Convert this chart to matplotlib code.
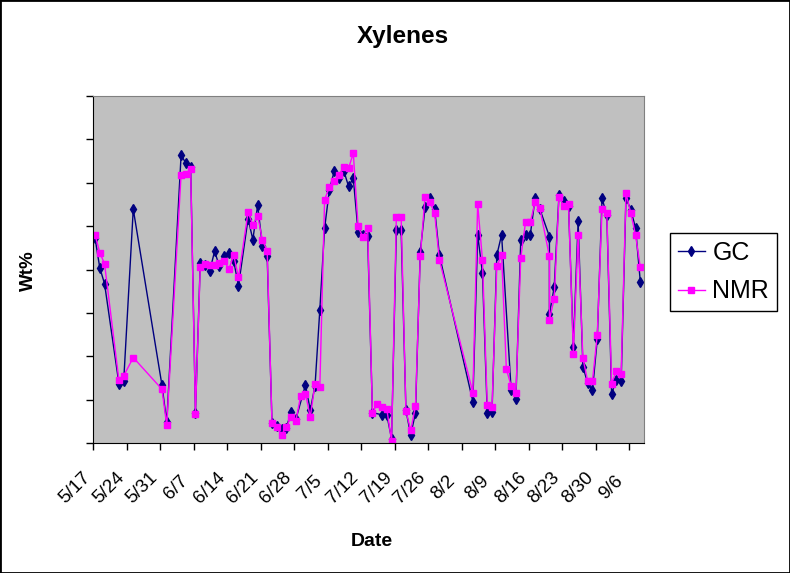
import matplotlib.pyplot as plt
from matplotlib.patches import Rectangle

plt.rcParams['font.family'] = ['Liberation Sans', 'DejaVu Sans']

# sample day (days after 5/17) and Wt% reading for each method
gc_day = [0, 1, 2, 5, 6, 8, 14, 15, 18, 19, 20, 21, 22, 23, 24, 25, 26, 27, 28, 29, 30,
          32, 33, 34, 35, 36, 37, 38, 39, 40, 41, 42, 44, 45, 46, 47, 48, 49, 50, 51, 52,
          53, 54, 55, 56, 57, 58, 60, 61, 62, 63, 64, 65, 66, 67, 68, 69, 70, 71, 72,
          79, 80, 81, 82, 83, 84, 85, 87, 88, 89, 90, 91, 92, 93, 95, 95, 96, 97, 98, 99,
          100, 101, 102, 103, 104, 105, 106, 107, 108, 109, 110, 111, 112, 113, 114]
gc_wt = [4.73, 4.04, 3.67, 1.37, 1.43, 5.39, 1.33, 0.48, 6.64, 6.45, 6.37, 0.70, 4.14, 4.11,
         3.97, 4.42, 4.08, 4.32, 4.38, 4.19, 3.63, 5.17, 4.69, 5.48, 4.55, 4.30, 0.47, 0.39,
         0.32, 0.35, 0.72, 0.55, 1.34, 0.76, 1.32, 3.07, 4.95, 5.84, 6.26, 6.11, 6.28, 5.92,
         6.10, 4.87, 4.80, 4.78, 0.70, 0.65, 0.65, 0.10, 4.91, 4.91, 0.76, 0.18, 0.70, 4.41,
         5.43, 5.64, 5.40, 4.33, 0.95, 4.80, 3.92, 0.70, 0.71, 4.33, 4.80, 1.22, 1.02, 4.67,
         4.80, 4.80, 5.64, 5.39, 4.76, 2.97, 3.59, 5.72, 5.58, 5.46, 2.22, 5.11, 1.76, 1.38,
         1.22, 2.39, 5.64, 5.25, 1.14, 1.45, 1.44, 5.65, 5.38, 4.96, 3.72]

nmr_day = [0, 1, 2, 5, 6, 8, 14, 15, 18, 19, 20, 21, 22, 23, 24, 25, 26, 27, 28, 29, 30,
           32, 33, 34, 35, 36, 37, 38, 39, 40, 41, 42, 43, 44, 45, 46, 47, 48, 49, 50, 51,
           52, 53, 54, 55, 56, 57, 58, 59, 60, 61, 62, 63, 64, 65, 66, 67, 68, 69, 70, 71,
           72, 79, 80, 81, 82, 83, 84, 85, 86, 87, 88, 89, 90, 91, 92, 93, 95, 95, 96, 97,
           98, 99, 100, 101, 102, 103, 104, 105, 106, 107, 108, 109, 110, 111, 112, 113, 114]
nmr_wt = [4.80, 4.39, 4.13, 1.45, 1.55, 1.97, 1.24, 0.41, 6.19, 6.21, 6.32, 0.68, 4.05, 4.13,
          4.11, 4.11, 4.16, 4.20, 4.01, 4.33, 3.82, 5.32, 5.03, 5.24, 4.68, 4.43, 0.46, 0.37,
          0.19, 0.37, 0.60, 0.51, 1.09, 1.14, 0.60, 1.36, 1.28, 5.61, 5.90, 6.05, 6.18, 6.36,
          6.33, 6.68, 5.00, 4.74, 4.96, 0.69, 0.91, 0.82, 0.78, 0.05, 5.22, 5.22, 0.74, 0.29,
          0.85, 4.30, 5.68, 5.55, 5.30, 4.22, 1.16, 5.51, 4.22, 0.88, 0.83, 4.07, 4.33, 1.70,
          1.32, 1.16, 4.26, 5.09, 5.09, 5.55, 5.41, 4.30, 2.84, 3.33, 5.68, 5.46, 5.51, 2.06,
          4.80, 1.95, 1.43, 1.43, 2.49, 5.40, 5.30, 1.37, 1.66, 1.60, 5.76, 5.30, 4.80, 4.05]

sample_hour = 8
date_labels = ['5/17', '5/24', '5/31', '6/7', '6/14', '6/21', '6/28', '7/5', '7/12',
               '7/19', '7/26', '8/2', '8/9', '8/16', '8/23', '8/30', '9/6']

gc_x = [d + sample_hour / 24 for d in gc_day]
nmr_x = [d + sample_hour / 24 for d in nmr_day]

fig = plt.figure(figsize=(7.9, 5.73), dpi=100)
ax = fig.add_axes([93.4 / 790, 1 - 443 / 573, (643.5 - 93.4) / 790, (443 - 96) / 573])
ax.set_facecolor('#C0C0C0')

ax.plot(gc_x, gc_wt, '-d', color='#000080', lw=1, ms=5, label='GC')
ax.plot(nmr_x, nmr_wt, '-s', color='#FF00FF', lw=1, ms=4.5, label='NMR')

ax.set_xlim(0, 115)
ax.set_ylim(0, 8)
ax.set_yticks(range(9))
ax.set_yticklabels([])
ax.set_xticks(range(0, 7 * len(date_labels), 7))
ax.set_xticklabels([])
ax.tick_params(direction='out', length=5, width=1, color='black')

for side in ['left', 'bottom']:
    ax.spines[side].set_color('black')
for side in ['top', 'right']:
    ax.spines[side].set_color('#808080')

# rotated date labels, centred a bit left of each tick like Excel does
for pos, lbl in zip(range(0, 7 * len(date_labels), 7), date_labels):
    ax.annotate(lbl, xy=(pos, 0), xycoords=('data', 'axes fraction'),
                xytext=(-13, -32), textcoords='offset points',
                rotation=45, ha='center', va='center', fontsize=13.5)

fig.text(403 / 790, 1 - 36 / 573, 'Xylenes', ha='center', va='center', fontsize=17.5, weight='bold')
fig.text(372 / 790, 1 - 542 / 573, 'Date', ha='center', va='center', fontsize=14, weight='bold')
fig.text(28 / 790, 1 - 271 / 573, 'Wt%', ha='center', va='center', rotation=90,
         fontsize=13.5, weight='bold')

leg = fig.legend(loc='upper left', bbox_to_anchor=(670 / 790, 1 - 233 / 573),
                 fontsize=18, frameon=True, fancybox=False, edgecolor='black',
                 facecolor='white', framealpha=1, borderaxespad=0, handlelength=1.1,
                 handletextpad=0.3, borderpad=0.3, labelspacing=0.6)
leg.get_frame().set_linewidth(1)

fig.add_artist(Rectangle((0, 0), 1, 1, transform=fig.transFigure, fill=False,
                         ec='black', lw=2))

fig.savefig('out.png', dpi=100)
